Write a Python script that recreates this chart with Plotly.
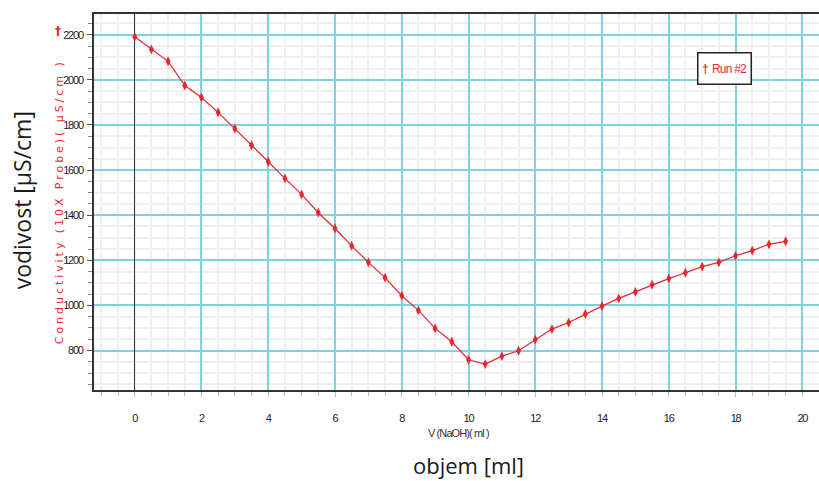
import plotly.graph_objects as go

# Data
volume_ml = [0, 0.5, 1, 1.5, 2, 2.5, 3, 3.5, 4, 4.5, 5, 5.5, 6, 6.5, 7, 7.5, 8, 8.5, 9, 9.5,
             10, 10.5, 11, 11.5, 12, 12.5, 13, 13.5, 14, 14.5, 15, 15.5, 16, 16.5, 17, 17.5,
             18, 18.5, 19, 19.5]
conductivity = [2191, 2135, 2082, 1975, 1922, 1856, 1784, 1710, 1637, 1563, 1492, 1411, 1341,
                1264, 1191, 1123, 1043, 978, 898, 839, 759, 740, 775, 799, 849, 895, 924, 962,
                997, 1031, 1060, 1092, 1119, 1145, 1172, 1191, 1220, 1243, 1271, 1284]
series_name = "Run #2"
x_tick_vals = [0, 2, 4, 6, 8, 10, 12, 14, 16, 18, 20]
y_tick_vals = [800, 1000, 1200, 1400, 1600, 1800, 2000, 2200]

RED = "#e8262e"
CYAN = "#7fd2e0"
MINOR = "#efefef"
AXIS = "#333333"
NARROW = "Liberation Sans, Arial, sans-serif"
TICKFONT = dict(family=NARROW, size=11, color="#222222")


def narrow(s, sp=-1.2):
    return f"<span style='letter-spacing:{sp}px'>{s}</span>"


fig = go.Figure()
fig.add_trace(go.Scatter(
    x=volume_ml, y=conductivity, mode="lines+markers", name=series_name,
    line=dict(color=RED, width=1.2),
    marker=dict(symbol="diamond-tall", size=7, color=RED),
    showlegend=False,
))

fig.update_layout(
    width=819, height=481,
    margin=dict(l=94, r=0, t=14, b=91),
    paper_bgcolor="white", plot_bgcolor="white",
    xaxis=dict(
        range=[-1.22, 20.5], tickvals=x_tick_vals, ticktext=[narrow(str(v)) for v in x_tick_vals],
        showgrid=True, gridcolor=CYAN, gridwidth=1.5,
        minor=dict(dtick=0.5, tick0=0, showgrid=True, gridcolor=MINOR, gridwidth=1.5,
                   ticks="outside", ticklen=4, tickcolor="#bbbbbb"),
        ticks="outside", ticklen=5, tickcolor="#bbbbbb",
        showline=True, linecolor=AXIS, linewidth=2, mirror=True,
        zeroline=True, zerolinecolor=AXIS, zerolinewidth=1,
        tickfont=TICKFONT, ticklabelstandoff=12,
    ),
    yaxis=dict(
        range=[625, 2292], tickvals=y_tick_vals, ticktext=[narrow(str(v)) for v in y_tick_vals],
        showgrid=True, gridcolor=CYAN, gridwidth=1.5,
        minor=dict(dtick=50, tick0=0, showgrid=True, gridcolor=MINOR, gridwidth=1.5,
                   ticks="outside", ticklen=4, tickcolor="#888888"),
        ticks="outside", ticklen=5, tickcolor="#555555",
        showline=True, linecolor=AXIS, linewidth=2, mirror=False,
        zeroline=False,
        tickfont=TICKFONT, ticklabelstandoff=2,
    ),
    annotations=[
        dict(text="vodivost [µS/cm]", xref="paper", yref="paper", x=-0.099, y=0.505,
             textangle=-90, showarrow=False, xanchor="center", yanchor="middle",
             font=dict(family="Open Sans", size=23, color="#1a1a1a")),
        dict(text="objem [ml]", xref="paper", yref="paper", x=0.517, y=-0.2,
             showarrow=False, xanchor="center", yanchor="middle",
             font=dict(family="Open Sans", size=22, color="#1a1a1a")),
        dict(text=narrow("V (NaOH)( ml )", -0.9), xref="paper", yref="paper", x=0.503, y=-0.114,
             showarrow=False, xanchor="center", yanchor="middle",
             font=dict(family=NARROW, size=11, color="#333333")),
        dict(text="<span style='letter-spacing:2.95px'>Conductivity (10X Probe)( µS/cm )</span>",
             xref="paper", yref="paper", x=-0.048, y=0.5,
             textangle=-90, showarrow=False, xanchor="center", yanchor="middle",
             font=dict(family="DejaVu Sans", size=11, color=RED)),
        dict(text="<b>†</b>", xref="paper", yref="paper", x=-0.05, y=0.955,
             showarrow=False, xanchor="center", yanchor="middle",
             font=dict(family="DejaVu Sans", size=12, color=RED)),
        dict(text="<span style='color:#e8262e'><b>†</b></span> " + narrow("Run #2", -0.8),
             xref="paper", yref="paper", x=0.870, y=0.854,
             showarrow=False, xanchor="center", yanchor="middle",
             width=50, height=28, bgcolor="white", bordercolor="#222222", borderwidth=1.5,
             borderpad=1,
             font=dict(family=NARROW, size=12, color=RED)),
    ],
)

fig.write_html("out.html", config={"displayModeBar": False},
               post_script="document.body.style.margin='0';document.body.style.padding='0';")
